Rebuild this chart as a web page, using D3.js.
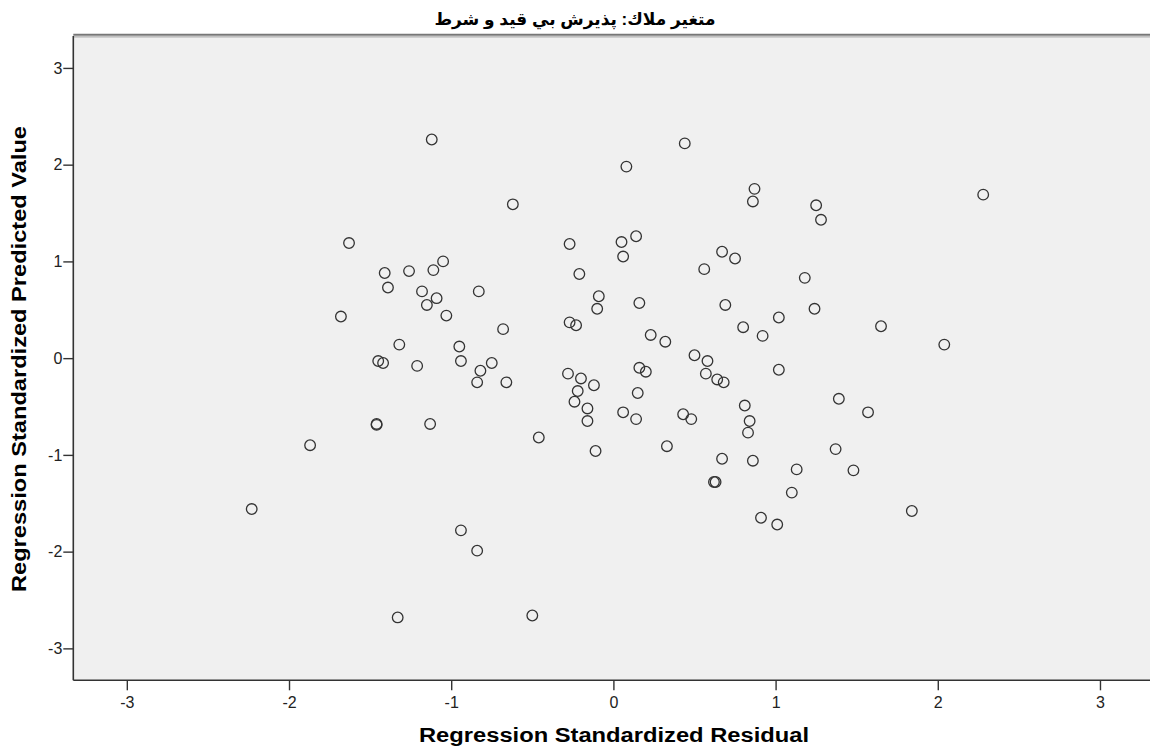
<!DOCTYPE html>
<html>
<head>
<meta charset="utf-8">
<script src="https://cdn.jsdelivr.net/npm/d3@7"></script>
<style>
  body { margin: 0; background: #fff; }
  text { font-family: Arial, "Liberation Sans", "DejaVu Sans", sans-serif; }
</style>
</head>
<body>
<div class="canva"></div>
<script>
// residual (x) / predicted value (y)
const residual = [
  -1.63, -1.41, -1.26, -1.11, -1.05, -1.39, -1.18, -1.09, -1.15, -0.83,
  -1.03, -1.68, -0.68, -1.32, -0.95, -1.45, -1.42, -1.21, -0.94, -0.75,
  -0.82, -0.84, -1.46, -1.46, -1.13, -1.87,
  -0.27, 0.05, 0.14, 0.06, 0.67, 0.75, 0.56, 1.18, -0.21, -0.09,
  -0.10, 0.16, 0.69, 1.24, 1.02, 0.80, 0.92, -0.27, -0.23, 0.23,
  0.32, 0.50, 0.58, 0.57, 0.64, 0.68, 1.02, -0.66, -0.28, -0.20,
  -0.12, -0.22, -0.24, -0.16, -0.16, 0.16, 0.20, 0.15, 0.06, 0.14,
  0.43, 0.48, 0.81, 0.84, 0.83, 1.39, 1.37, -0.46, -0.11, 0.33,
  0.67, 0.86,
  0.08, 0.44, 0.87, 0.86, 1.25, 1.28, 2.28,
  -1.12, -0.62,
  -2.23, -0.94, -0.84, -1.33, -0.50,
  1.13, 1.48, 0.63, 0.62, 1.10, 0.91, 1.01, 1.84,
  1.65, 2.04, 1.57
];
const predicted = [
  1.19, 0.88, 0.90, 0.91, 1.00, 0.73, 0.69, 0.62, 0.55, 0.69,
  0.44, 0.43, 0.30, 0.14, 0.12, -0.03, -0.05, -0.08, -0.03, -0.05,
  -0.13, -0.25, -0.69, -0.68, -0.68, -0.90,
  1.18, 1.20, 1.26, 1.05, 1.10, 1.03, 0.92, 0.83, 0.87, 0.64,
  0.51, 0.57, 0.55, 0.51, 0.42, 0.32, 0.23, 0.37, 0.34, 0.24,
  0.17, 0.03, -0.03, -0.16, -0.22, -0.25, -0.12, -0.25, -0.16, -0.21,
  -0.28, -0.34, -0.45, -0.52, -0.65, -0.10, -0.14, -0.36, -0.56, -0.63,
  -0.58, -0.63, -0.49, -0.65, -0.77, -0.42, -0.94, -0.82, -0.96, -0.91,
  -1.04, -1.06,
  1.98, 2.22, 1.75, 1.62, 1.58, 1.43, 1.69,
  2.26, 1.59,
  -1.56, -1.78, -1.99, -2.68, -2.66,
  -1.15, -1.16, -1.28, -1.28, -1.39, -1.65, -1.72, -1.58,
  0.33, 0.14, -0.56
];
const xTicks = [-3, -2, -1, 0, 1, 2, 3];
const yTicks = [-3, -2, -1, 0, 1, 2, 3];
const domainMin = -3.33, domainMax = 3.33;

const titleText = 'متغير ملاك: پذيرش بي قيد و شرط';
const xLabel = 'Regression Standardized Residual';
const yLabel = 'Regression Standardized Predicted Value';

const W = 1150, H = 753;
const plotL = 73.3, plotT = 36, plotR = 1153.5, plotB = 680.3;

const svg = d3.select('.canva').append('svg')
  .attr('width', W)
  .attr('height', H);

const x = d3.scaleLinear().domain([domainMin, domainMax]).range([plotL, plotR]);
const y = d3.scaleLinear().domain([domainMin, domainMax]).range([plotB, plotT]);

// plot background
svg.append('rect')
  .attr('x', plotL).attr('y', plotT)
  .attr('width', plotR - plotL).attr('height', plotB - plotT)
  .attr('fill', '#f0f0f0');

// top frame (grey double line)
svg.append('line')
  .attr('x1', plotL).attr('x2', W).attr('y1', plotT - 1.2).attr('y2', plotT - 1.2)
  .attr('stroke', '#777').attr('stroke-width', 2);
svg.append('line')
  .attr('x1', plotL).attr('x2', W).attr('y1', plotT + 0.8).attr('y2', plotT + 0.8)
  .attr('stroke', '#b0b0b0').attr('stroke-width', 1.2);

const fmt = d => String(d);

const xAxis = svg.append('g')
  .attr('transform', `translate(0,${plotB})`)
  .call(d3.axisBottom(x).tickValues(xTicks).tickFormat(fmt).tickSize(10).tickPadding(6));
const yAxis = svg.append('g')
  .attr('transform', `translate(${plotL},0)`)
  .call(d3.axisLeft(y).tickValues(yTicks).tickFormat(fmt).tickSize(10).tickPadding(1));

[xAxis, yAxis].forEach(g => {
  g.select('.domain').attr('stroke', '#333').attr('stroke-width', 1.6);
  g.selectAll('.tick line').attr('stroke', '#333').attr('stroke-width', 1.4);
  g.selectAll('.tick text')
    .attr('fill', '#222')
    .style('font-size', '16px');
});
xAxis.select('.domain').attr('d', `M${plotL},0H${W}`);
yAxis.select('.domain').attr('d', `M0,${plotT}V${plotB}`);

// points
svg.append('g')
  .selectAll('circle')
  .data(residual.map((r, i) => ({ r: r, p: predicted[i] })))
  .enter().append('circle')
  .attr('cx', d => x(d.r))
  .attr('cy', d => y(d.p))
  .attr('r', 5.3)
  .attr('fill', 'none')
  .attr('stroke', '#333')
  .attr('stroke-width', 1.3);

// title and axis labels
svg.append('text')
  .attr('x', 575).attr('y', 25)
  .attr('text-anchor', 'middle')
  .attr('direction', 'rtl')
  .style('font-size', '17px')
  .style('font-weight', 'bold')
  .text(titleText);

svg.append('text')
  .attr('x', 614).attr('y', 742)
  .attr('text-anchor', 'middle')
  .attr('textLength', 390)
  .attr('lengthAdjust', 'spacingAndGlyphs')
  .style('font-size', '20px')
  .style('font-weight', 'bold')
  .text(xLabel);

svg.append('text')
  .attr('transform', 'translate(26,359) rotate(-90)')
  .attr('text-anchor', 'middle')
  .attr('textLength', 466)
  .attr('lengthAdjust', 'spacingAndGlyphs')
  .style('font-size', '20px')
  .style('font-weight', 'bold')
  .text(yLabel);
</script>
</body>
</html>
